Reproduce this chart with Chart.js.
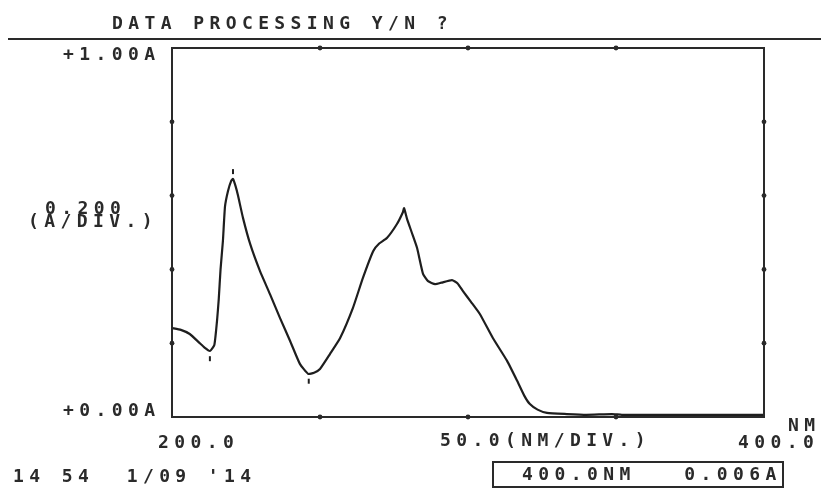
<!DOCTYPE html>
<html>
<head>
<meta charset="utf-8">
<title>Spectrum printout</title>
<script src="https://cdn.jsdelivr.net/npm/chart.js@4.4.1/dist/chart.umd.min.js"></script>
<style>
  html, body { margin: 0; padding: 0; background: #fff; }
  #wrap { width: 821px; height: 491px; position: relative; }
</style>
</head>
<body>
<div id="wrap"><canvas id="spectrum" width="821" height="491"></canvas></div>
<script>
// wavelength (nm) and absorbance (A)
const wavelengths = [
    200, 203, 206, 209, 211, 212.8, 214.3, 215.2, 215.8, 216.4,
    217.2, 217.9, 218.9, 220, 220.6, 221.5, 222.3, 224, 226.4, 229.7,
    233.1, 236.5, 239.9, 243.2, 246, 248, 250, 253.4, 256.8, 261.1,
    264.5, 268, 270, 272.6, 276, 278, 278.4, 279.4, 281, 282.8,
    284.8, 286.5, 288.9, 291, 294.6, 296.5, 298.3, 301, 304, 308.4,
    313.2, 316.6, 319, 320.9, 323.5, 326.7, 333.4, 340, 348.6, 352,
    370, 400
];
const absorbance = [
    0.241, 0.236, 0.225, 0.203, 0.188, 0.179, 0.195, 0.260, 0.320, 0.400,
    0.477, 0.570, 0.612, 0.640, 0.645, 0.625, 0.600, 0.539, 0.469, 0.396,
    0.333, 0.268, 0.206, 0.144, 0.117, 0.120, 0.130, 0.171, 0.214, 0.295,
    0.377, 0.450, 0.470, 0.485, 0.523, 0.555, 0.566, 0.537, 0.500, 0.458,
    0.388, 0.368, 0.360, 0.364, 0.371, 0.362, 0.341, 0.312, 0.279, 0.214,
    0.152, 0.098, 0.058, 0.035, 0.020, 0.011, 0.008, 0.006, 0.008, 0.006,
    0.006, 0.006
];
// peak / valley marks printed next to the trace
const markWavelengths = [220.6, 212.8, 246.2];
const markAbsorbance = [0.665, 0.158, 0.097];

// axis range and divisions
const xMin = 200, xMax = 400, xStep = 50;
const yMin = 0, yMax = 1.0, yStep = 0.2;
const yTickLabels = ['+0.00A', '+1.00A'];
const xTickLabels = ['200.0', '400.0'];

const FONT = 'bold 18px "DejaVu Sans Mono", "Liberation Mono", monospace';
const INK = '#2a2a2a';

function drawText(ctx, str, x, y) {
    ctx.fillText(str, x, y);
}

// frame, tick dots and printer texts
const printout = {
    id: 'printout',
    afterDraw: function (chart) {
        const ctx = chart.ctx;
        const a = chart.chartArea;
        const xs = chart.scales.x;
        const ys = chart.scales.y;
        ctx.save();

        // rule under the prompt
        ctx.strokeStyle = INK;
        ctx.lineWidth = 2;
        ctx.beginPath();
        ctx.moveTo(8, 39);
        ctx.lineTo(821, 39);
        ctx.stroke();

        // plot frame
        ctx.lineWidth = 2;
        ctx.strokeRect(a.left, a.top, a.right - a.left, a.bottom - a.top);

        // division dots
        ctx.fillStyle = INK;
        for (let v = xMin + xStep; v < xMax; v += xStep) {
            const px = xs.getPixelForValue(v);
            [a.top, a.bottom].forEach(function (py) {
                ctx.beginPath();
                ctx.arc(px, py, 2.4, 0, Math.PI * 2);
                ctx.fill();
            });
        }
        for (let v = yMin + yStep; v < yMax - 1e-9; v += yStep) {
            const py = ys.getPixelForValue(v);
            [a.left, a.right].forEach(function (px) {
                ctx.beginPath();
                ctx.arc(px, py, 2.4, 0, Math.PI * 2);
                ctx.fill();
            });
        }

        // texts
        ctx.font = FONT;
        ctx.letterSpacing = '5.4px';
        ctx.textBaseline = 'middle';
        ctx.textAlign = 'left';
        ctx.fillStyle = INK;

        drawText(ctx, 'DATA PROCESSING Y/N ?', 112, 24);
        drawText(ctx, yTickLabels[1], 63, ys.getPixelForValue(yMax) + 7);
        drawText(ctx, yTickLabels[0], 63, ys.getPixelForValue(yMin) - 6);
        drawText(ctx, '0.200', 45, 209);
        drawText(ctx, '(A/DIV.)', 28, 222);
        drawText(ctx, xTickLabels[0], xs.getPixelForValue(xMin) - 14, 443);
        drawText(ctx, '50.0(NM/DIV.)', 440, 441);
        drawText(ctx, 'NM', 788, 426);
        drawText(ctx, xTickLabels[1], xs.getPixelForValue(xMax) - 26, 443);
        drawText(ctx, '14 54  1/09 \'14', 13, 477);

        // readout box
        ctx.lineWidth = 2;
        ctx.strokeRect(493, 462, 290, 25);
        drawText(ctx, '400.0NM   0.006A', 522, 475);

        ctx.restore();
    }
};

const traceData = wavelengths.map(function (w, i) { return { x: w, y: absorbance[i] }; });
const markData = markWavelengths.map(function (w, i) { return { x: w, y: markAbsorbance[i] }; });

const config = {
    type: 'line',
    data: {
        datasets: [
            {
                label: 'Absorbance',
                data: traceData,
                borderColor: '#1e1e1e',
                borderWidth: 2.2,
                pointRadius: 0,
                fill: false,
                tension: 0.15
            },
            {
                label: 'Marks',
                data: markData,
                showLine: false,
                pointStyle: 'line',
                rotation: 90,
                pointRadius: 2.5,
                borderColor: '#1e1e1e',
                borderWidth: 2
            }
        ]
    },
    options: {
        responsive: false,
        animation: false,
        events: [],
        layout: {
            padding: { left: 172, top: 48, right: 57, bottom: 74 }
        },
        scales: {
            x: { type: 'linear', min: xMin, max: xMax, display: false },
            y: { type: 'linear', min: yMin, max: yMax, display: false }
        },
        plugins: {
            legend: { display: false },
            tooltip: { enabled: false }
        }
    },
    plugins: [printout]
};

const ctx = document.getElementById('spectrum').getContext('2d');
const spectrumChart = new Chart(ctx, config);
</script>
</body>
</html>
